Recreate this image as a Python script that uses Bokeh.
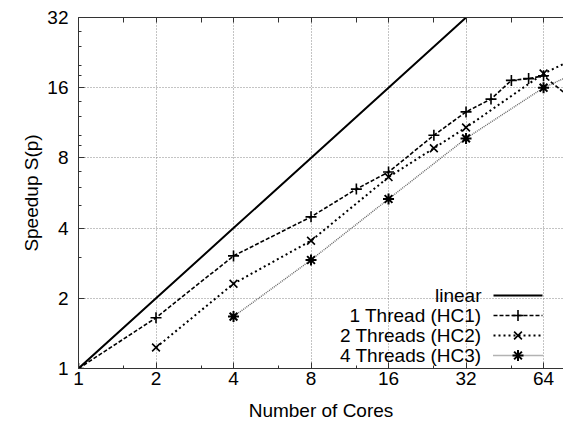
from bokeh.plotting import figure
from bokeh.models import (FixedTicker, LogAxis, Label, Arrow,
                          Range1d, NumeralTickFormatter)
from bokeh.embed import file_html
from bokeh.resources import INLINE

# ---- data ----
cores_linear = [1, 2, 4, 8, 16, 32, 64]
speedup_linear = [1, 2, 4, 8, 16, 32, 64]

cores_hc1 = [1, 2, 4, 8, 12, 16, 24, 32, 40, 48, 56, 64, 80]
speedup_hc1 = [1.0, 1.65, 3.04, 4.47, 5.88, 6.96, 10.0, 12.6, 14.3, 17.2, 17.5, 18.0, 14.7]

cores_hc2 = [2, 4, 8, 16, 24, 32, 64, 80]
speedup_hc2 = [1.23, 2.31, 3.53, 6.62, 8.8, 10.8, 18.4, 20.7]

cores_hc3 = [4, 8, 16, 32, 64, 80]
speedup_hc3 = [1.67, 2.92, 5.33, 9.7, 16.0, 17.9]

x_ticks = [1, 2, 4, 8, 16, 32, 64]
x_minor = [1.5, 3, 6, 12, 24, 48]
y_ticks = [1, 2, 4, 8, 16, 32]
y_minor = [3, 5, 6, 7, 9, 10, 12, 14, 18, 20, 24, 28]

series_labels = ["linear", "1 Thread (HC1)", "2 Threads (HC2)", "4 Threads (HC3)"]

FONT = "Liberation Sans"
FS = "19px"
AX = "#333333"

p = figure(width=563, height=423, x_axis_type="log", y_axis_type="log",
           x_range=Range1d(1, 76.5), y_range=Range1d(1, 32),
           output_backend="svg", toolbar_location=None,
           min_border_left=78, min_border_right=0, min_border_top=17,
           min_border_bottom=54)
p.outline_line_color = None
p.background_fill_color = "white"

xt = FixedTicker(ticks=x_ticks, minor_ticks=x_minor)
yt = FixedTicker(ticks=y_ticks, minor_ticks=y_minor)

for ax, tk in ((p.xaxis[0], xt), (p.yaxis[0], yt)):
    ax.ticker = tk
    ax.formatter = NumeralTickFormatter(format="0")
    ax.major_tick_in = 6
    ax.major_tick_out = 0
    ax.minor_tick_in = 3
    ax.minor_tick_out = 0
    ax.axis_line_color = AX
    ax.major_tick_line_color = AX
    ax.minor_tick_line_color = AX
    ax.major_label_text_font = FONT
    ax.major_label_text_font_size = FS
    ax.major_label_text_color = "black"
    ax.axis_label_text_font = FONT
    ax.axis_label_text_font_size = FS
    ax.axis_label_text_font_style = "normal"
    ax.axis_label_text_color = "black"

p.xaxis.axis_label = "Number of Cores"
p.yaxis.axis_label = "Speedup S(p)"
p.xaxis.major_label_standoff = 3
p.xaxis.axis_label_standoff = 12
p.yaxis.major_label_standoff = 10
p.yaxis.axis_label_standoff = 2

# top border with mirrored (unlabelled) ticks
top = LogAxis(ticker=FixedTicker(ticks=[], minor_ticks=x_ticks + x_minor),
              major_tick_in=0, major_tick_out=0, minor_tick_in=5, minor_tick_out=0,
              axis_line_color=AX, minor_tick_line_color=AX)
p.add_layout(top, "above")

for g in (p.xgrid[0], p.ygrid[0]):
    g.grid_line_color = "#888888"
    g.grid_line_dash = "1 2"
    g.grid_line_width = 1

LIN = dict(line_color="black", line_width=2)
S1 = dict(line_color="black", line_width=1.6, line_dash="4 2")
S2 = dict(line_color="black", line_width=2, line_dash="2 3")
S3 = dict(line_color="#666666", line_width=1.4, line_dash="1 1")
M1 = dict(marker="cross", size=11, line_color="black", line_width=1.6)
M2 = dict(marker="x", size=11, line_color="black", line_width=1.6)
M3 = dict(marker="asterisk", size=11, line_color="black", line_width=2)

p.line(cores_linear, speedup_linear, **LIN)
p.line(cores_hc1, speedup_hc1, **S1)
p.scatter(cores_hc1, speedup_hc1, **M1)
p.line(cores_hc2, speedup_hc2, **S2)
p.scatter(cores_hc2, speedup_hc2, **M2)
p.line(cores_hc3, speedup_hc3, **S3)
p.scatter(cores_hc3, speedup_hc3, **M3)

# ---- gnuplot-style key: text right-aligned, then sample ----
line_styles = [LIN, S1, S2, S3]
marker_kinds = [None, "cross", "x", "asterisk"]
key_text_x, key_x0, key_x1, key_y0, key_dy = 403, 415, 464, 73, 20
h, d = 5.5, 3.9
segs = {"cross": [(-h, 0, h, 0), (0, -h, 0, h)],
        "x": [(-d, -d, d, d), (-d, d, d, -d)]}
segs["asterisk"] = segs["cross"] + segs["x"]

for i, txt in enumerate(series_labels):
    yy = key_y0 - key_dy * i
    p.add_layout(Label(x=key_text_x, y=yy, x_units="screen", y_units="screen",
                       text=txt, text_align="right", text_baseline="middle",
                       text_font=FONT, text_font_size=FS, text_color="black"))
    p.add_layout(Arrow(start=None, end=None, x_start=key_x0, y_start=yy,
                       x_end=key_x1, y_end=yy, start_units="screen",
                       end_units="screen", **line_styles[i]))
    mk = marker_kinds[i]
    if mk:
        cx = (key_x0 + key_x1) / 2
        lw = 2 if mk == "asterisk" else 1.6
        for (ax0, ay0, ax1, ay1) in segs[mk]:
            p.add_layout(Arrow(start=None, end=None, x_start=cx + ax0, y_start=yy + ay0,
                               x_end=cx + ax1, y_end=yy + ay1, start_units="screen",
                               end_units="screen", line_color="black", line_width=lw))

open("out.html", "w").write(file_html(p, INLINE))
